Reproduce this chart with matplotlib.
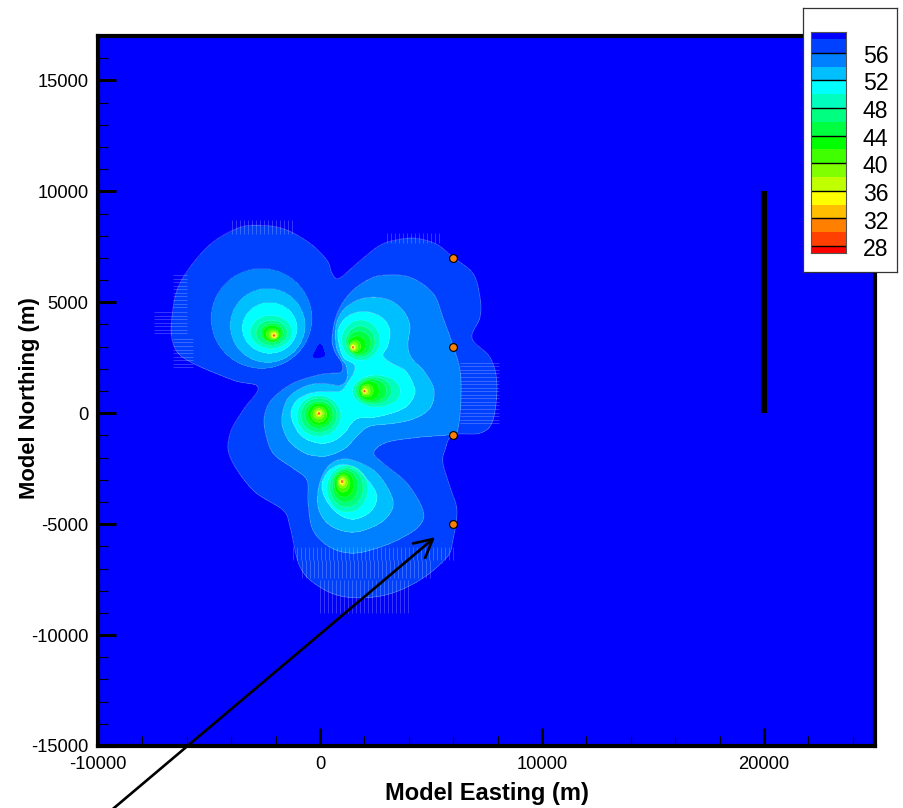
import numpy as np
import matplotlib
matplotlib.use("Agg")
import matplotlib.pyplot as plt
from matplotlib.colors import ListedColormap, BoundaryNorm
from matplotlib.path import Path

plt.rcParams['font.family'] = ['Liberation Sans', 'DejaVu Sans']
plt.rcParams['axes.unicode_minus'] = False

# head bands, from the legend
bounds = [27, 28, 30, 32, 34, 36, 38, 40, 42, 44, 46, 48, 50, 52, 54, 56, 58, 59]
colors = ['#ff0000', '#ff4000', '#ff8000', '#ffbf00', '#ffff00', '#bfff00', '#80ff00', '#40ff00',
          '#00ff00', '#00ff40', '#00ff80', '#00ffbf', '#00ffff', '#00bfff', '#0080ff', '#0040ff', '#0000ff']
bar_labels = [56, 52, 48, 44, 40, 36, 32, 28]

# contour outlines (model metres)
c58_x = [-2700, -1580, -450, 320, 540, 860, 1670, 2700, 3600, 4370, 5270, 5990, 6890, 7210, 7210, 6850, 7660, 7970,
         7790, 7210, 5990, 5630, 5540, 5860, 6170, 5990, 5720, 4500, 2930, 1220, 0, -900, -1350, -1670, -3020, -4050,
         -4050, -3470, -2790, -3920, -5990, -6620, -6670, -6310, -5090, -3740]
c58_y = [8470, 8290, 7660, 6890, 6310, 6080, 6760, 7570, 7840, 7880, 7610, 7030, 6310, 5230, 4320, 3380, 2520, 1350,
         -320, -900, -990, -1670, -2250, -3330, -4370, -5720, -6490, -7520, -8200, -8290, -7840, -6940, -5140, -4370,
         -3470, -1980, -900, 140, 1170, 1490, 2390, 3150, 4320, 5860, 7480, 8330]
hole_x = [0, 180, 225, 0, -270, -270]
hole_y = [3150, 2840, 2610, 2520, 2520, 2750]

c56_main_x = [2120, 2840, 4050, 5090, 5540, 5990, 6310, 6350, 6220, 5950, 4500, 3020, 2430, 2840, 3920, 4640, 4500,
              3740, 2700, 1490, 450, -320, -540, -590, -1220, -2120, -2480, -2480, -2120, -1220, -140, 450, 950, 990,
              680, 540, 770, 1350]
c56_main_y = [5990, 6220, 6130, 5410, 4320, 3060, 1940, 590, -680, -950, -1080, -1310, -1760, -2250, -3150, -4370,
              -5050, -5590, -6040, -6310, -6040, -5270, -4050, -3020, -2480, -1800, -770, 0, 680, 1350, 1710, 1800,
              1850, 2250, 2750, 3380, 4500, 5410]

c54_main_x = [2390, 3150, 3740, 4050, 3960, 4140, 4730, 5140, 4960, 4280, 3380, 2250, 1710, 1130, 450, -50, -680,
              -1350, -1670, -1710, -1440, -770, 0, 900, 1220, 1170, 950, 720, 720, 1040, 1670]
c54_main_y = [5230, 5090, 4640, 3960, 3060, 2480, 1850, 1040, 230, -230, -450, -590, -990, -1580, -1890, -1940,
              -1800, -1310, -680, -90, 680, 1170, 1350, 1260, 1580, 2160, 2480, 3060, 3960, 4640, 5090]
c54_s_x = [770, 1490, 2570, 3290, 3020, 2250, 1350, 450, -50, -90, 230]
c54_s_y = [-2120, -2120, -2700, -3920, -4690, -5180, -5360, -5050, -4370, -3470, -2570]

c52_main_x = [2250, 2840, 3150, 3060, 2840, 3240, 3830, 4190, 4280, 3960, 3380, 2480, 1710, 1350, 1130, 590, -50,
              -770, -1170, -1310, -1040, -450, 230, 900, 1220, 1530, 1530, 1080, 860, 810, 1130, 1670]
c52_main_y = [4550, 4280, 3740, 3060, 2610, 2250, 1940, 1350, 900, 360, 50, -180, -230, -540, -860, -1260, -1350,
              -1080, -540, 50, 590, 900, 990, 990, 1350, 1850, 2210, 2480, 3060, 3740, 4280, 4550]
c52_s_x = [1040, 1710, 2340, 2570, 2250, 1490, 770, 230, 90, 410]
c52_s_y = [-2300, -2570, -3240, -3830, -4460, -4780, -4500, -3830, -3150, -2570]

# pumping wells and the radius of each ring towards W, E, N, S
ring_levels = [50, 48, 46, 44, 42, 40, 38, 36, 34, 32, 30]
well_nw = (-2070, 3510,
           [1080, 810, 590, 500, 360, 230, 160, 110, 80, 60, 40],
           [810, 590, 410, 320, 230, 180, 140, 90, 70, 60, 40],
           [900, 680, 540, 450, 320, 230, 160, 110, 80, 60, 40],
           [590, 450, 320, 270, 200, 160, 110, 90, 70, 60, 40])
well_c = (-50, 0,
          [990, 810, 630, 500, 360, 250, 160, 110, 80, 60, 40],
          [990, 810, 630, 500, 360, 250, 160, 110, 80, 60, 40],
          [810, 680, 540, 450, 320, 230, 160, 110, 80, 60, 40],
          [1040, 860, 680, 540, 410, 270, 160, 110, 80, 60, 40])
well_ne = (1480, 2980,
           [500, 320, 250, 200, 160, 140, 100, 80, 60, 50, 40],
           [1220, 990, 810, 590, 360, 230, 140, 100, 70, 50, 40],
           [1220, 950, 720, 500, 320, 230, 140, 100, 70, 50, 40],
           [590, 450, 360, 290, 230, 160, 110, 80, 60, 50, 40])
well_e = (2000, 1000,
          [540, 410, 320, 250, 180, 140, 100, 80, 60, 50, 40],
          [1620, 1220, 990, 680, 410, 270, 160, 100, 60, 50, 40],
          [720, 630, 540, 450, 320, 230, 140, 100, 60, 50, 40],
          [720, 590, 500, 410, 270, 180, 130, 90, 60, 50, 40])
well_s = (990, -3060,
          [680, 540, 430, 340, 250, 180, 140, 100, 70, 60, 40],
          [1170, 950, 720, 540, 360, 250, 160, 110, 80, 60, 40],
          [720, 590, 500, 410, 320, 230, 160, 110, 80, 60, 40],
          [1400, 1170, 950, 720, 500, 320, 200, 140, 90, 60, 40])
# the NW well stands alone, its 56/54/52 rings are closed too
nw_outer_levels = [56, 54, 52]
nw_outer = (-2070, 3510, [2840, 1980, 1440], [1710, 1400, 1040], [3020, 2120, 1490], [1490, 1220, 810])

# observation points and the line source
obs_x = [6000, 6000, 6000, 6000]
obs_y = [7000, 3000, -1000, -5000]
line_x = [20000, 20000]
line_y = [0, 10000]

# light raster streaks along the contour edges: x0, x1, y0, y1
streaks_v = [(-3960, -1130, 8060, 8690), (3020, 5540, 7660, 8110), (0, 4050, -8990, -7520),
             (-810, 5090, -7430, -6620), (-1220, 5990, -6620, -6040)]
streaks_h = [(-7480, -5990, 3600, 4640), (-6620, -5990, 4780, 6310), (-6620, -5720, 2070, 3420),
             (6310, 8060, -450, 2390)]


def smooth(xs, ys, n=8):
    # closed catmull-rom through the hand read points
    p = np.column_stack([xs, ys]).astype(float)
    p0, p2, p3 = np.roll(p, 1, axis=0), np.roll(p, -1, axis=0), np.roll(p, -2, axis=0)
    out = []
    for t in np.arange(n) / n:
        out.append(0.5 * (2 * p + (p2 - p0) * t + (2 * p0 - 5 * p + 4 * p2 - p3) * t ** 2
                          + (3 * p - p0 - 3 * p2 + p3) * t ** 3))
    return np.stack(out, axis=1).reshape(-1, 2)


outlines = [(58, c58_x, c58_y),
            (56, c56_main_x, c56_main_y),
            (54, c54_main_x, c54_main_y), (54, c54_s_x, c54_s_y),
            (52, c52_main_x, c52_main_y), (52, c52_s_x, c52_s_y)]

gx = np.arange(-8000, 9000, 45.05)
gy = np.arange(-10000, 9500, 45.05)
X, Y = np.meshgrid(gx, gy)
pts = np.column_stack([X.ravel(), Y.ravel()])
Z = np.full(X.shape, 58.5)
edges = []
for level, xs, ys in outlines:
    p = smooth(xs, ys)
    inside = Path(p).contains_points(pts).reshape(X.shape)
    Z[inside] = level - 1
    edges.append(p)
Z[Path(smooth(hole_x, hole_y, 4)).contains_points(pts).reshape(X.shape)] = 58.5

rings = []
well_sets = [(nw_outer_levels, nw_outer), (ring_levels, well_nw), (ring_levels, well_c), (ring_levels, well_ne),
             (ring_levels, well_e), (ring_levels, well_s)]
for levels, (cx, cy, w, e, n, s) in well_sets:
    for i, level in enumerate(levels):
        x0 = cx + (e[i] - w[i]) / 2
        y0 = cy + (n[i] - s[i]) / 2
        rx = (e[i] + w[i]) / 2
        ry = (n[i] + s[i]) / 2
        Z[((X - x0) / rx) ** 2 + ((Y - y0) / ry) ** 2 < 1] = level - 1
        rings.append((x0, y0, rx, ry))

cmap = ListedColormap(colors)
norm = BoundaryNorm(bounds, cmap.N)

W, H = 904, 808
fig = plt.figure(figsize=(W / 100, H / 100), dpi=100)
ax = fig.add_axes([98 / W, (H - 746) / H, (875 - 98) / W, (746 - 36) / H])
ax.set_facecolor('#0000ff')
ax.pcolormesh(gx, gy, Z, cmap=cmap, norm=norm, shading='nearest', antialiased=False, zorder=1)

for p in edges:
    q = np.vstack([p, p[:1]])
    ax.plot(q[:, 0], q[:, 1], color='white', lw=0.5, alpha=0.3, zorder=2)
t = np.linspace(0, 2 * np.pi, 60)
for x0, y0, rx, ry in rings:
    ax.plot(x0 + rx * np.cos(t), y0 + ry * np.sin(t), color='white', lw=0.4, alpha=0.2, zorder=2)
for x0, x1, y0, y1 in streaks_v:
    ax.vlines(np.arange(x0, x1, 180), y0, y1, color='white', lw=0.5, alpha=0.3, zorder=2)
for x0, x1, y0, y1 in streaks_h:
    ax.hlines(np.arange(y0, y1, 160), x0, x1, color='white', lw=0.5, alpha=0.3, zorder=2)

ax.plot(line_x, line_y, color='black', lw=4.4, solid_capstyle='butt', zorder=3)
ax.plot(obs_x, obs_y, 'o', ms=5.6, mfc='#ff8000', mec='black', mew=0.8, zorder=4)
ax.annotate('', xy=(5180, -5590), xytext=(-11300, -19500), annotation_clip=False, zorder=5,
            arrowprops=dict(arrowstyle='->,head_length=1.3,head_width=0.68', color='black', lw=1.9,
                            mutation_scale=10, shrinkA=0, shrinkB=0))

ax.set_xlim(-10000, 25000)
ax.set_ylim(-15000, 17000)
ax.set_xticks(np.arange(-10000, 20001, 10000))
ax.set_xticks(np.arange(-10000, 25001, 2000), minor=True)
ax.set_yticks(np.arange(-15000, 15001, 5000))
ax.set_yticks(np.arange(-15000, 17001, 1000), minor=True)
ax.tick_params(which='major', direction='in', length=13, width=2.2, labelsize=13.2, pad=7, top=False, right=False)
ax.tick_params(which='minor', direction='in', length=7, width=0.8, top=False, right=False)
for s in ax.spines.values():
    s.set_linewidth(3.0)
    s.set_zorder(6)
ax.set_xlabel('Model Easting (m)', fontsize=17, fontweight='bold', va='center')
ax.set_ylabel('Model Northing (m)', fontsize=15.8, fontweight='bold', va='center')
ax.xaxis.set_label_coords(0.5006, -0.067)
ax.yaxis.set_label_coords(-0.0888, 0.49)

# legend box with the colour bar
box = fig.add_axes([803 / W, (H - 272) / H, (897 - 803) / W, (272 - 8) / H])
box.set_xticks([])
box.set_yticks([])
for s in box.spines.values():
    s.set_linewidth(0.9)
    s.set_color('#333333')
bar = fig.add_axes([811 / W, (H - 253) / H, (846 - 811) / W, (253 - 32) / H])
bar.pcolormesh([0, 1], bounds, np.array(bounds[:-1])[:, None] + 0.5, cmap=cmap, norm=norm)
bar.hlines(bar_labels, 0, 1, color='black', lw=1)
bar.set_xlim(0, 1)
bar.set_ylim(27, 59)
bar.set_xticks([])
bar.set_yticks([])
for s in bar.spines.values():
    s.set_linewidth(0.8)
    s.set_color('#555555')
for v in bar_labels:
    bar.annotate(str(v), xy=(1, v), xytext=(12, -2.6), textcoords='offset points', fontsize=16.6,
                 va='center', ha='left', annotation_clip=False)

fig.savefig('out.png', dpi=100)
